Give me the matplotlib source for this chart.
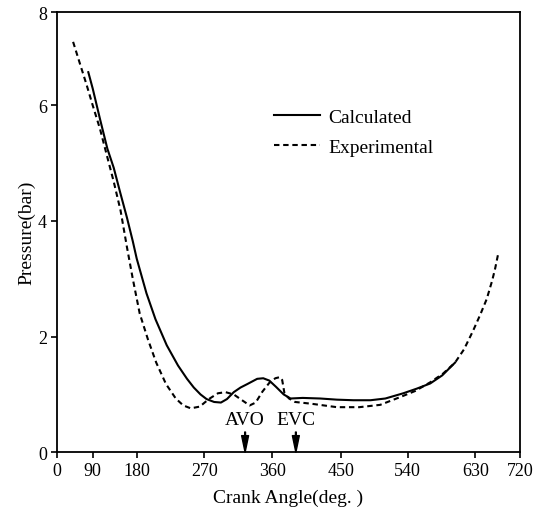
import numpy as np
import matplotlib
matplotlib.use("Agg")
import matplotlib.pyplot as plt

plt.rcParams.update({
    "font.family": "serif",
    "font.serif": ["Liberation Serif", "DejaVu Serif"],
    "font.size": 12,
})

# ----------------------------------------------------
# DATA
# ----------------------------------------------------
calc_angle = [79, 90, 105, 120, 133, 146, 160, 172, 180, 193, 205, 220, 235,
              247, 256, 265, 273, 283, 292, 300, 309, 318, 327, 340, 348, 356,
              365, 375, 384, 400, 423, 445, 467, 490, 510, 534, 552, 570, 586, 603]
calc_pressure = [6.71, 6.36, 5.76, 5.25, 4.92, 4.50, 4.06, 3.65, 3.35, 2.75, 2.30,
                 1.85, 1.50, 1.27, 1.12, 1.00, 0.92, 0.87, 0.86, 0.92, 1.04, 1.12,
                 1.18, 1.27, 1.28, 1.24, 1.13, 1.00, 0.93, 0.94, 0.93, 0.91, 0.90,
                 0.90, 0.93, 1.02, 1.10, 1.19, 1.33, 1.55]

exp_angle = [41, 60, 74, 90, 105, 120, 133, 147, 160, 172, 184, 195, 206, 219,
             232, 242, 252, 264, 276, 288, 298, 309, 320, 330, 338, 347, 356,
             364, 370, 373, 376, 382, 390, 411, 445, 475, 503, 531, 550, 570,
             587, 603, 615, 627, 640, 653, 664, 670, 676]
exp_pressure = [7.36, 6.84, 6.46, 6.00, 5.59, 5.10, 4.68, 4.18, 3.55, 3.00, 2.40,
                1.95, 1.55, 1.18, 0.93, 0.81, 0.76, 0.79, 0.92, 1.02, 1.04, 1.00,
                0.90, 0.81, 0.86, 1.05, 1.20, 1.28, 1.30, 1.25, 1.02, 0.93, 0.87,
                0.84, 0.78, 0.78, 0.82, 0.96, 1.06, 1.21, 1.36, 1.55, 1.78, 2.10,
                2.38, 2.65, 2.97, 3.18, 3.43]

valve_events = ["AVO", "EVC"]
valve_angles = [324, 391]

x_ticks = [0, 90, 180, 270, 360, 450, 540, 630, 720]
y_ticks = [0, 2, 4, 6, 8]

# the original axes are not evenly spaced: tick positions along each axis
x_tick_pos = [0, 36, 80, 147.6, 215.6, 284, 351, 418.6, 463.3]
y_tick_pos = [0, 115.7, 231.3, 347, 440.3]


def x_fwd(v):
    return np.interp(v, x_ticks, x_tick_pos)


def x_inv(v):
    return np.interp(v, x_tick_pos, x_ticks)


def y_fwd(v):
    return np.interp(v, y_ticks, y_tick_pos)


def y_inv(v):
    return np.interp(v, y_tick_pos, y_ticks)


# ----------------------------------------------------
# PLOT
# ----------------------------------------------------
fig = plt.figure(figsize=(5.43, 5.10), dpi=100)
ax = fig.add_axes([56.7 / 543, 56.7 / 510, 463.3 / 543, 440.3 / 510])
ax.set_xscale("function", functions=(x_fwd, x_inv))
ax.set_yscale("function", functions=(y_fwd, y_inv))

ax.plot(calc_angle, calc_pressure, color="black", lw=1.5, label="Calculated")
ax.plot(exp_angle, exp_pressure, color="black", lw=1.5, dashes=(2.6, 1.8),
        label="Experimental")

for name, ang in zip(valve_events, valve_angles):
    ax.annotate("", xy=(ang, 0), xytext=(ang, 0.35),
                arrowprops=dict(facecolor="black", edgecolor="black", width=0.6,
                                headwidth=5, headlength=12, shrink=0))
    ax.text(ang, 0.56, name, ha="center", va="center", fontsize=14)

ax.set_xlim(0, 720)
ax.set_ylim(0, 8)
ax.set_xticks(x_ticks)
ax.set_xticklabels([str(t) for t in x_ticks])
ax.set_yticks(y_ticks)
ax.set_yticklabels([str(t) for t in y_ticks])
ax.minorticks_off()
ax.tick_params(direction="out", length=4, width=1.2, labelsize=13, pad=3)

for s in ax.spines.values():
    s.set_linewidth(1.3)

ax.set_xlabel("Crank Angle(deg. )", fontsize=14, labelpad=7)
ax.set_ylabel("Pressure(bar)", fontsize=14, labelpad=2)

ax.legend(loc="upper left", bbox_to_anchor=(0.469, 0.782), frameon=False,
          handlelength=2.35, handletextpad=0.45, borderpad=0, borderaxespad=0,
          labelspacing=0.65, fontsize=14)

fig.savefig("out.png", dpi=100)
